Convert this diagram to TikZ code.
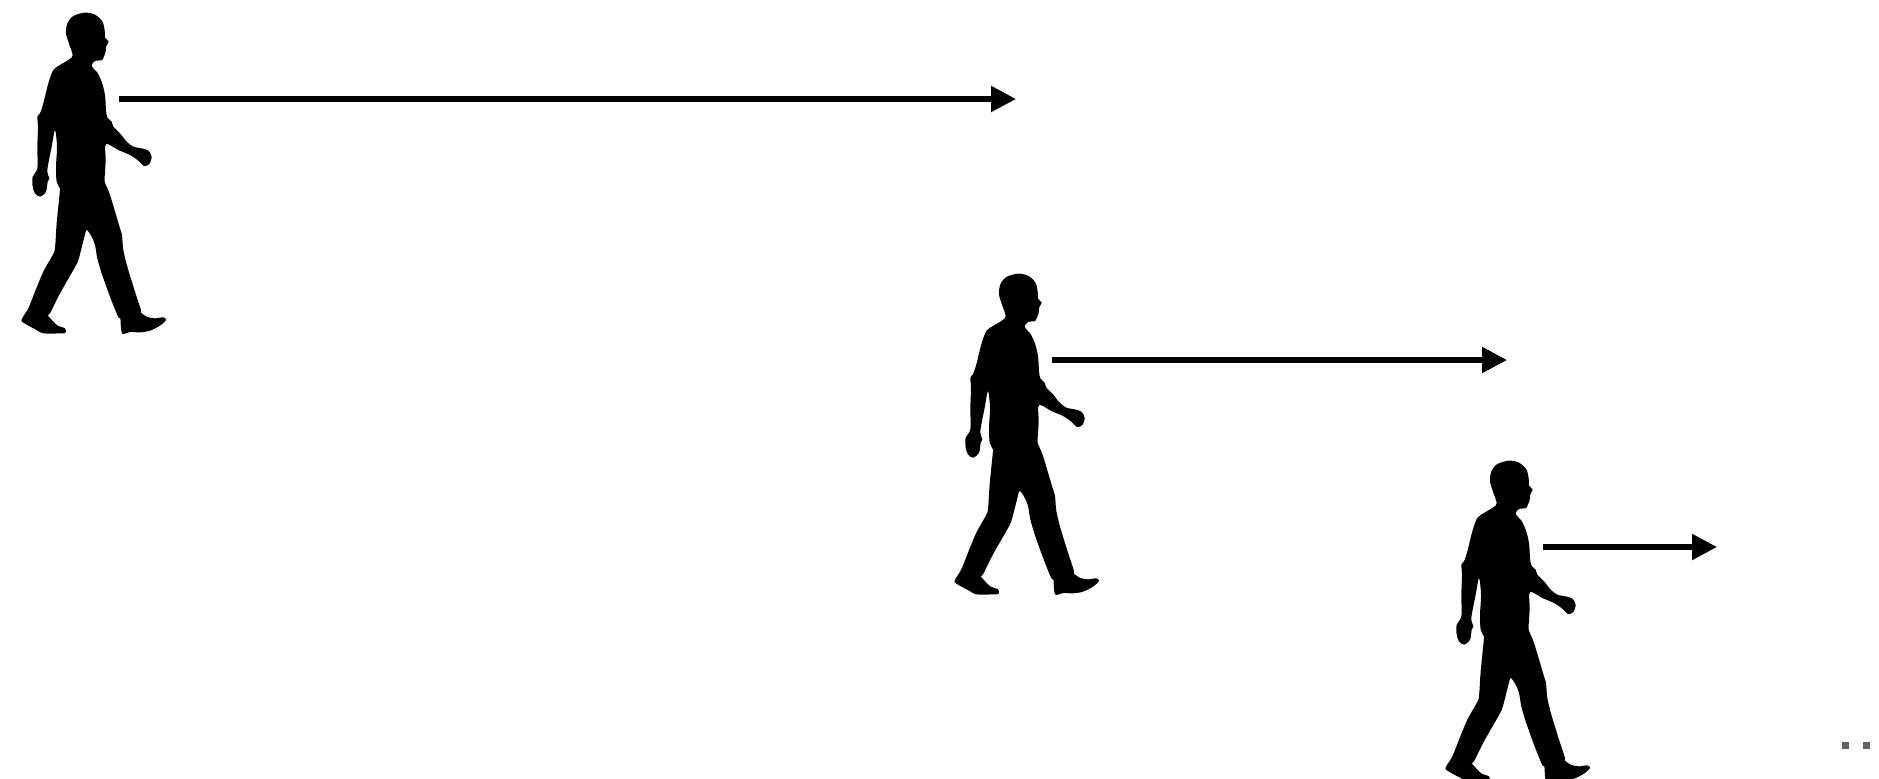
\documentclass[tikz,border=0pt]{standalone}
\usetikzlibrary{arrows.meta}

\tikzset{
    motion/.style={line width=3pt, -{Triangle[length=14.2pt,width=14.2pt]}},
    dotmark/.style={fill=black!62, inner sep=0pt, minimum size=4pt},
    walker/.pic={
        \fill[black, shift={(10,0)}, scale=1/3]
            plot[smooth cycle, tension=0.5] coordinates {
            (188,165) (176,128) (168,100) (172,70) (190,48) (225,38) (255,44) (278,66)
            (285,100) (285,113) (296,125) (289,138) (287,155) (281,172) (277,180) (255,183)
            (245,195) (250,205) (262,218) (275,245) (285,285) (288,330) (292,352) (305,365)
            (310,380) (330,400) (350,425) (370,440) (395,445) (415,452) (425,470) (418,492)
            (402,498) (385,482) (360,465) (325,450) (288,432) (287,480) (285,520) (284,545)
            (300,585) (330,685) (336,705) (340,750) (352,800) (375,875) (393,930) (392,937)
            (410,950) (435,955) (460,952) (468,960) (450,977) (420,992) (390,997) (360,996)
            (338,1002) (333,985) (331,955) (325,952) (300,890) (275,820) (262,775) (255,735)
            (245,710) (230,690) (222,715) (205,780) (190,810) (150,880) (120,940) (113,945)
            (130,965) (145,978) (165,985) (167,998) (155,1000) (100,1000) (80,990) (40,968)
            (35,958) (55,925) (75,875) (100,815) (128,765) (135,745) (140,670) (150,570)
            (150,565) (140,545) (138,500) (141,440) (135,390) (125,440) (112,510) (118,535)
            (113,545) (108,575) (90,590) (75,580) (68,560) (68,530) (82,505) (82,440)
            (84,380) (82,350) (90,340) (100,310) (115,250) (130,210) (150,195) (178,178)
            };
    }
}

\begin{document}
\begin{tikzpicture}[x=0.02cm, y=-0.02cm]
    \useasboundingbox (0,0) rectangle (1879,778);
    \clip (0,0) rectangle (1879,778);

    % ---- walkers ----
    \pic (walkerA) at (0,0) {walker};
    \pic (walkerB) at (933,261) {walker};
    \pic (walkerC) at (1424,448) {walker};

    % ---- motion arrows ----
    \coordinate (startA) at (119,99);
    \coordinate (endA) at (1016,99);
    \coordinate (startB) at (1052,360);
    \coordinate (endB) at (1507,360);
    \coordinate (startC) at (1543,547);
    \coordinate (endC) at (1717,547);
    \draw[motion] (startA) -- (endA);
    \draw[motion] (startB) -- (endB);
    \draw[motion] (startC) -- (endC);

    % ---- corner marks ----
    \node[dotmark] (markL) at (1845.5,745) {};
    \node[dotmark] (markR) at (1866.5,745) {};
\end{tikzpicture}
\end{document}
